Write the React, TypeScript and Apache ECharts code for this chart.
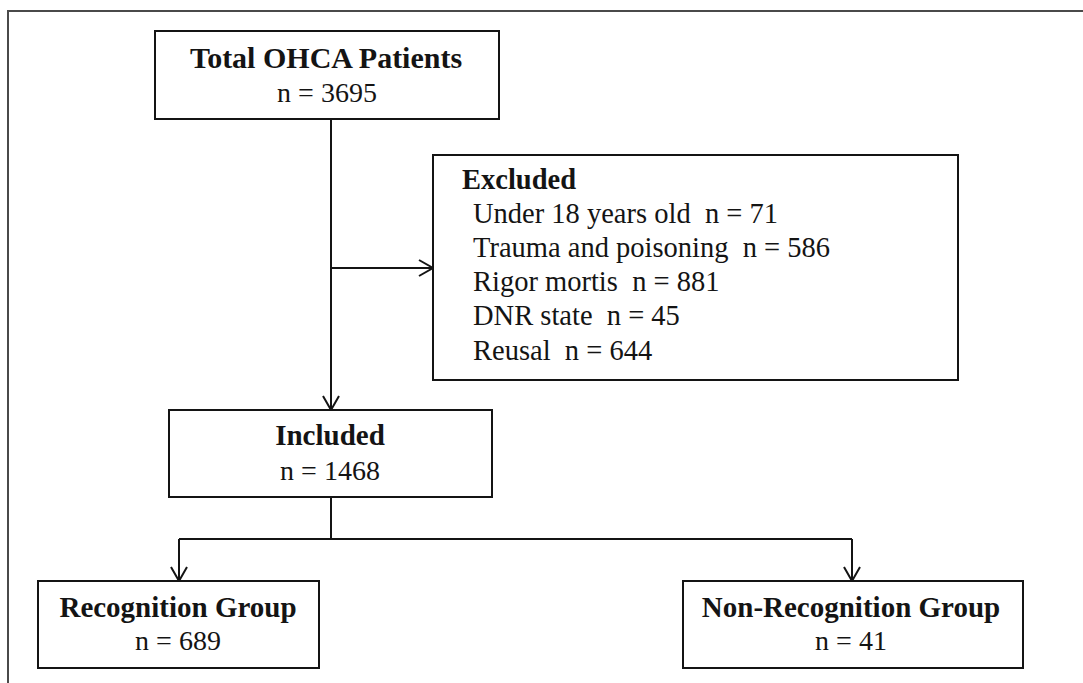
import React, { useEffect, useRef } from "react";
import * as echarts from "echarts";

// ---- Data ----
const totalLabel = "Total OHCA Patients";
const totalCount = 3695;
const excludedLabel = "Excluded";
const exclusionReasons = ["Under 18 years old", "Trauma and poisoning", "Rigor mortis", "DNR state", "Reusal"];
const exclusionCounts = [71, 586, 881, 45, 644];
const includedLabel = "Included";
const includedCount = 1468;
const groupLabels = ["Recognition Group", "Non-Recognition Group"];
const groupCounts = [689, 41];

// ---- Layout ----
const INK = "#141414";
const FONT = "'Liberation Serif', 'Times New Roman', serif";
const LW = 2;

type Box = { x: number; y: number; w: number; h: number };
const topBox: Box = { x: 155, y: 31, w: 344, h: 88 };
const exclBox: Box = { x: 433, y: 155, w: 525, h: 225 };
const inclBox: Box = { x: 169, y: 410, w: 323, h: 87 };
const groupBoxes: Box[] = [
  { x: 38, y: 581, w: 281, h: 87 },
  { x: 683, y: 581, w: 340, h: 87 },
];
const groupTextX = [178, 851];
const trunkX = 331;

function rect(b: Box) {
  return {
    type: "rect",
    shape: { x: b.x, y: b.y, width: b.w, height: b.h },
    style: { fill: "#fff", stroke: INK, lineWidth: LW },
  };
}
function line(x1: number, y1: number, x2: number, y2: number) {
  return { type: "line", shape: { x1, y1, x2, y2 }, style: { stroke: INK, lineWidth: LW } };
}
function arrowDown(x: number, y: number) {
  return {
    type: "polyline",
    shape: { points: [[x - 8, y - 14], [x, y], [x + 8, y - 14]] },
    style: { stroke: INK, lineWidth: LW, fill: "none" },
  };
}
function arrowRight(x: number, y: number) {
  return {
    type: "polyline",
    shape: { points: [[x - 14, y - 8], [x, y], [x - 14, y + 8]] },
    style: { stroke: INK, lineWidth: LW, fill: "none" },
  };
}
function text(t: string, x: number, y: number, bold: boolean, align: string = "center", size = 28) {
  return {
    type: "text",
    x,
    y,
    style: {
      text: t,
      fill: INK,
      font: `${bold ? "bold " : ""}${size}px ${FONT}`,
      textAlign: align,
      textVerticalAlign: "middle",
    },
  };
}

export default function App() {
  const ref = useRef<HTMLDivElement>(null);
  useEffect(() => {
    if (!ref.current) return;
    const chart = echarts.init(ref.current, null, { renderer: "svg" });
    const els: any[] = [];
    // outer frame (open on the right and bottom)
    els.push({
      type: "polyline",
      shape: { points: [[8, 683], [8, 11], [1083, 11]] },
      style: { stroke: "#4a4a4a", lineWidth: 2, fill: "none" },
    });
    // connectors
    els.push(line(trunkX, topBox.y + topBox.h, trunkX, inclBox.y));
    els.push(arrowDown(trunkX, inclBox.y));
    els.push(line(trunkX, 268, exclBox.x, 268));
    els.push(arrowRight(exclBox.x, 268));
    const branchY = 539;
    const gx = [179, 852];
    els.push(line(trunkX, inclBox.y + inclBox.h, trunkX, branchY));
    els.push(line(gx[0], branchY, gx[1], branchY));
    gx.forEach((x, i) => {
      els.push(line(x, branchY, x, groupBoxes[i].y));
      els.push(arrowDown(x, groupBoxes[i].y));
    });
    // boxes
    [topBox, exclBox, inclBox, ...groupBoxes].forEach((b) => els.push(rect(b)));
    // texts
    els.push(text(totalLabel, 326, 57, true, "center", 30));
    els.push(text(`n = ${totalCount}`, 327, 92, false, "center", 28));
    els.push(text(excludedLabel, 462, 179, true, "left", 28.5));
    exclusionReasons.forEach((r, i) => {
      els.push(text(`${r}  n = ${exclusionCounts[i]}`, 473, 213 + i * 34.25, false, "left", 28.5));
    });
    els.push(text(includedLabel, 330, 435, true, "center", 29));
    els.push(text(`n = ${includedCount}`, 330, 470, false, "center", 28));
    groupLabels.forEach((g, i) => {
      els.push(text(g, groupTextX[i], 607, true, "center", 29));
      els.push(text(`n = ${groupCounts[i]}`, groupTextX[i], 640, false, "center", 28));
    });
    chart.setOption({
      animation: false,
      backgroundColor: "#fff",
      graphic: { elements: els },
    });
    return () => chart.dispose();
  }, []);
  return (
    <div
      ref={ref}
      style={{ position: "absolute", left: 0, top: 0, width: 1083, height: 683, background: "#fff" }}
    />
  );
}
